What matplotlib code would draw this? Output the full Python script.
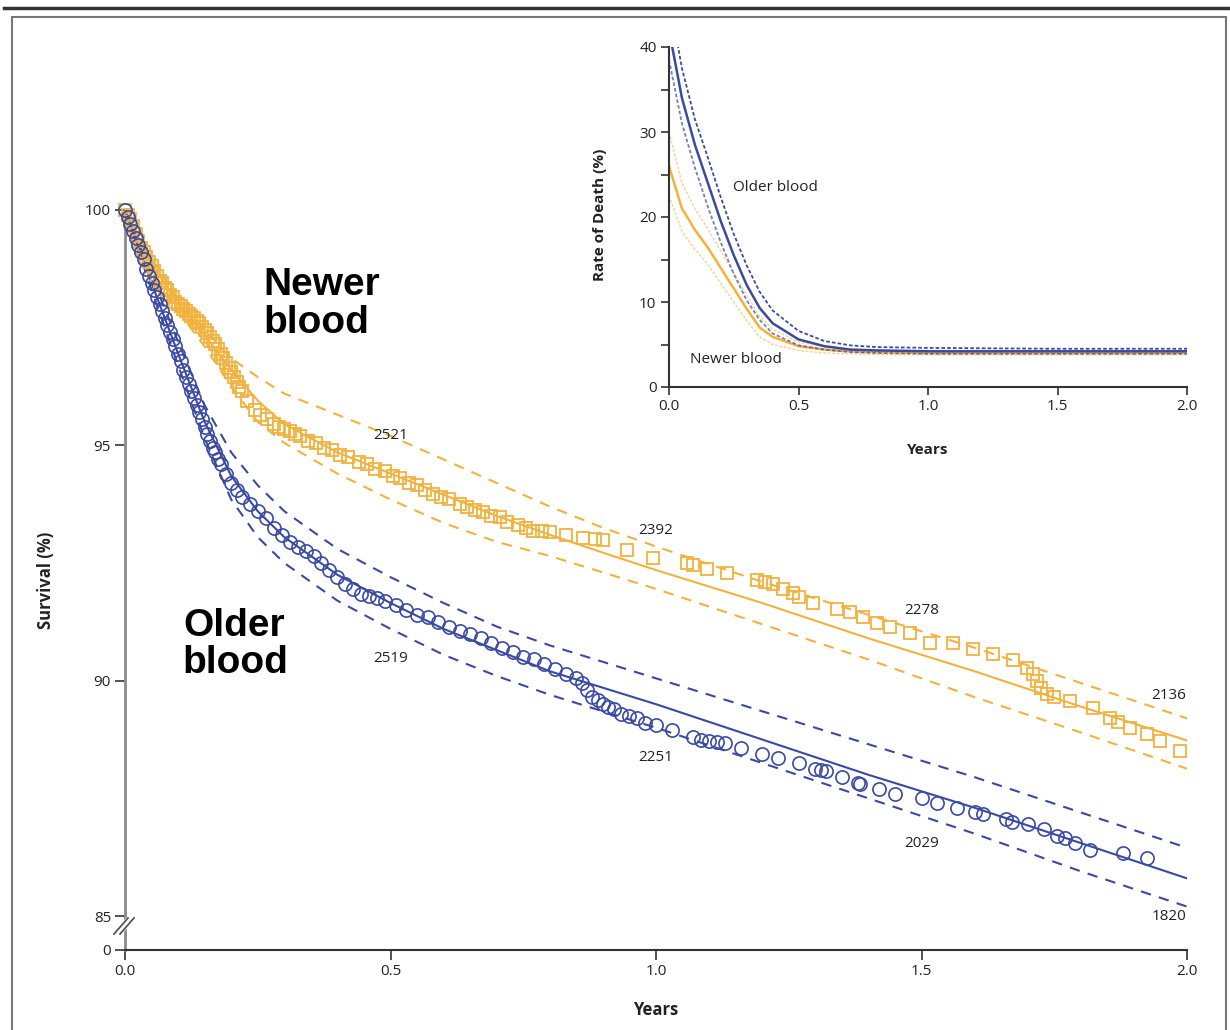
import matplotlib
matplotlib.use("Agg")
import matplotlib.pyplot as plt
from matplotlib.lines import Line2D
from matplotlib.patches import Rectangle, Polygon

BLUE = "#3a4aa3"
ORANGE = "#f2b23e"
TXT = "#222222"
plt.rcParams['font.family'] = ['Open Sans', 'DejaVu Sans']

# ---- main panel: Kaplan-Meier style survival (%)
older_x = [0.000, 0.005, 0.010, 0.015, 0.020, 0.025, 0.030, 0.035, 0.040, 0.045,
           0.050, 0.055, 0.060, 0.065, 0.070, 0.075, 0.080, 0.085, 0.090, 0.095,
           0.100, 0.105, 0.110, 0.115, 0.120, 0.125, 0.130, 0.135, 0.140, 0.145,
           0.150, 0.155, 0.160, 0.165, 0.170, 0.175, 0.180, 0.190, 0.200, 0.210,
           0.220, 0.235, 0.250, 0.265, 0.280, 0.295, 0.310, 0.325, 0.340, 0.355,
           0.370, 0.385, 0.400, 0.415, 0.430, 0.445, 0.460, 0.475, 0.490, 0.510,
           0.530, 0.550, 0.570, 0.590, 0.610, 0.630, 0.650, 0.670, 0.690, 0.710,
           0.730, 0.750, 0.770, 0.790, 0.810, 0.830, 0.850, 0.860, 0.870, 0.880,
           0.890, 0.900, 0.910, 0.920, 0.935, 0.950, 0.965, 0.980, 1.000, 1.030,
           1.070, 1.085, 1.100, 1.115, 1.130, 1.160, 1.200, 1.230, 1.270, 1.300,
           1.310, 1.320, 1.350, 1.380, 1.385, 1.420, 1.450, 1.500, 1.530, 1.567,
           1.600, 1.616, 1.660, 1.670, 1.700, 1.730, 1.755, 1.770, 1.790, 1.817,
           1.880, 1.925]
older_y = [100.0, 99.85, 99.7, 99.55, 99.4, 99.25, 99.1, 98.95, 98.75, 98.6,
           98.45, 98.3, 98.15, 98.0, 97.85, 97.7, 97.55, 97.4, 97.25, 97.1,
           96.95, 96.8, 96.6, 96.45, 96.3, 96.15, 96.0, 95.85, 95.7, 95.55,
           95.4, 95.25, 95.1, 94.95, 94.85, 94.7, 94.6, 94.4, 94.2, 94.05,
           93.9, 93.75, 93.6, 93.45, 93.25, 93.1, 92.95, 92.85, 92.75, 92.65,
           92.5, 92.35, 92.2, 92.05, 91.95, 91.85, 91.8, 91.75, 91.7, 91.6,
           91.5, 91.4, 91.35, 91.25, 91.15, 91.05, 91.0, 90.9, 90.8, 90.7,
           90.6, 90.5, 90.45, 90.35, 90.25, 90.15, 90.05, 89.95, 89.8, 89.65,
           89.6, 89.5, 89.45, 89.4, 89.3, 89.25, 89.2, 89.1, 89.05, 88.95,
           88.8, 88.75, 88.72, 88.7, 88.68, 88.57, 88.45, 88.36, 88.25, 88.12,
           88.1, 88.08, 87.95, 87.82, 87.8, 87.7, 87.6, 87.5, 87.4, 87.3,
           87.2, 87.17, 87.06, 87.0, 86.95, 86.85, 86.7, 86.65, 86.55, 86.4,
           86.34, 86.23]

newer_x = [0.000, 0.005, 0.010, 0.015, 0.020, 0.025, 0.030, 0.035, 0.040, 0.045,
           0.050, 0.055, 0.060, 0.065, 0.070, 0.075, 0.080, 0.085, 0.090, 0.095,
           0.100, 0.105, 0.110, 0.115, 0.120, 0.125, 0.130, 0.135, 0.140, 0.145,
           0.150, 0.155, 0.160, 0.165, 0.170, 0.175, 0.180, 0.185, 0.190, 0.195,
           0.200, 0.205, 0.210, 0.215, 0.220, 0.230, 0.245, 0.255, 0.267, 0.280,
           0.290, 0.300, 0.310, 0.320, 0.330, 0.345, 0.360, 0.375, 0.390, 0.405,
           0.420, 0.440, 0.456, 0.470, 0.490, 0.505, 0.518, 0.535, 0.550, 0.565,
           0.580, 0.595, 0.610, 0.630, 0.644, 0.660, 0.675, 0.690, 0.706, 0.720,
           0.740, 0.755, 0.768, 0.785, 0.800, 0.830, 0.862, 0.885, 0.900, 0.945,
           0.994, 1.058, 1.070, 1.096, 1.133, 1.190, 1.205, 1.220, 1.240, 1.258,
           1.270, 1.296, 1.340, 1.365, 1.390, 1.416, 1.440, 1.478, 1.516, 1.560,
           1.597, 1.635, 1.672, 1.699, 1.710, 1.717, 1.725, 1.736, 1.750, 1.780,
           1.823, 1.855, 1.870, 1.893, 1.925, 1.949, 1.987]
newer_y = [100.0, 99.9, 99.8, 99.65, 99.5, 99.35, 99.2, 99.1, 99.0, 98.9,
           98.8, 98.7, 98.6, 98.5, 98.45, 98.35, 98.3, 98.2, 98.15, 98.05,
           98.0, 97.95, 97.9, 97.85, 97.8, 97.75, 97.7, 97.65, 97.6, 97.52,
           97.45, 97.38, 97.3, 97.22, 97.15, 97.05, 96.95, 96.85, 96.75, 96.65,
           96.55, 96.45, 96.35, 96.25, 96.15, 95.95, 95.75, 95.65, 95.55, 95.45,
           95.4, 95.35, 95.3, 95.25, 95.2, 95.1, 95.05, 94.95, 94.9, 94.8,
           94.75, 94.65, 94.6, 94.5, 94.45, 94.35, 94.3, 94.2, 94.15, 94.05,
           93.97, 93.9, 93.85, 93.75, 93.68, 93.62, 93.58, 93.5, 93.47, 93.38,
           93.3, 93.25, 93.19, 93.17, 93.15, 93.1, 93.04, 93.0, 92.98, 92.77,
           92.6, 92.51, 92.45, 92.38, 92.28, 92.13, 92.1, 92.06, 91.95, 91.87,
           91.78, 91.64, 91.53, 91.45, 91.35, 91.23, 91.13, 91.02, 90.8, 90.79,
           90.68, 90.57, 90.43, 90.26, 90.15, 90.0, 89.85, 89.72, 89.65, 89.57,
           89.43, 89.21, 89.12, 89.0, 88.87, 88.72, 88.51]

# fitted model curves with confidence bands
fit_x = [0, 0.05, 0.1, 0.15, 0.2, 0.25, 0.3, 0.4, 0.5, 0.6, 0.7, 0.8, 0.9,
         1.0, 1.2, 1.4, 1.6, 1.8, 2.0]
older_fit = [100, 98.45, 96.95, 95.5, 94.35, 93.6, 93.05, 92.25, 91.65, 91.1,
             90.65, 90.2, 89.85, 89.5, 88.75, 88.0, 87.3, 86.55, 85.8]
older_hi = [100, 98.6, 97.2, 95.85, 94.85, 94.15, 93.6, 92.8, 92.2, 91.65,
            91.15, 90.75, 90.4, 90.05, 89.35, 88.65, 87.95, 87.2, 86.45]
older_lo = [100, 98.3, 96.7, 95.15, 93.85, 93.05, 92.5, 91.7, 91.1, 90.55,
            90.1, 89.7, 89.35, 89.0, 88.25, 87.5, 86.75, 85.95, 85.2]
newer_fit = [100, 98.85, 98.0, 97.35, 96.6, 95.95, 95.45, 94.85, 94.4, 93.95,
             93.5, 93.1, 92.72, 92.35, 91.65, 90.9, 90.2, 89.45, 88.73]
newer_hi = [100, 98.95, 98.1, 97.45, 96.85, 96.45, 96.1, 95.65, 95.2, 94.7,
            94.2, 93.7, 93.25, 92.85, 92.1, 91.4, 90.7, 89.95, 89.2]
newer_lo = [100, 98.75, 97.85, 97.1, 96.25, 95.5, 95.05, 94.4, 93.85, 93.35,
            92.95, 92.65, 92.3, 91.95, 91.2, 90.45, 89.65, 88.9, 88.13]

# numbers at risk
risk_x = [0.5, 1.0, 1.5, 1.966]
risk_newer = ["2521", "2392", "2278", "2136"]
risk_newer_y = [95.2, 93.2, 91.5, 89.68]
risk_older = ["2519", "2251", "2029", "1820"]
risk_older_y = [90.47, 88.36, 86.55, 85.0]

# ---- inset: rate of death (%)
rate_x = [0.0, 0.05, 0.1, 0.15, 0.2, 0.25, 0.3, 0.35, 0.4, 0.5, 0.6, 0.7,
          0.8, 1.0, 1.5, 2.0]
older_rate = [42, 34.0, 28.5, 24.0, 19.5, 15.5, 12.0, 9.3, 7.5, 5.6, 4.8, 4.4,
              4.3, 4.2, 4.2, 4.2]
older_rate_hi = [46, 37.5, 31.5, 27.0, 22.3, 18.0, 14.3, 11.2, 9.0, 6.6, 5.4,
                 4.9, 4.7, 4.6, 4.5, 4.5]
older_rate_lo = [38.5, 31.0, 25.8, 21.2, 17.0, 13.3, 10.2, 7.9, 6.3, 4.9, 4.4,
                 4.1, 4.0, 3.9, 3.9, 3.9]
newer_rate = [26.0, 21.0, 18.5, 16.4, 14.0, 11.6, 9.2, 7.0, 5.9, 4.8, 4.4,
              4.2, 4.1, 4.0, 4.0, 4.0]
newer_rate_hi = [30.0, 24.0, 21.0, 18.6, 16.0, 13.4, 10.8, 8.3, 6.8, 5.3, 4.7,
                 4.5, 4.4, 4.3, 4.3, 4.3]
newer_rate_lo = [22.5, 18.3, 16.2, 14.4, 12.2, 10.0, 7.8, 5.9, 5.0, 4.3, 4.0,
                 3.9, 3.8, 3.8, 3.8, 3.8]

W, H = 1230, 1030
fig = plt.figure(figsize=(W / 100, H / 100), dpi=100)

# page frame
fig.add_artist(Line2D([4 / W, 1], [1 - 8 / H] * 2, lw=2.5, color="#333333"))
fig.add_artist(Rectangle((12 / W, -0.02), (1226 - 12) / W, 1 - 17 / H + 0.02,
                         fill=False, ec="#777777", lw=1.5))

y0 = 84.278  # position of the "0" tick below the axis break
ax = fig.add_axes([125 / W, (H - 950) / H, (1187 - 125) / W, (950 - 210) / H])
ax.set_xlim(0, 2.0)
ax.set_ylim(y0, 100)

dash = (0, (5, 4))
for ys, st in [(newer_hi, dash), (newer_lo, dash), (newer_fit, "-")]:
    ax.plot(fit_x, ys, color=ORANGE, lw=1.5, linestyle=st, zorder=2)
for ys, st in [(older_hi, dash), (older_lo, dash), (older_fit, "-")]:
    ax.plot(fit_x, ys, color=BLUE, lw=1.5, linestyle=st, zorder=2)

ax.plot(newer_x, newer_y, linestyle="none", marker="s", ms=9, mfc="none",
        mec=ORANGE, mew=1.3, clip_on=False, zorder=3)
ax.plot(older_x, older_y, linestyle="none", marker="o", ms=9.5, mfc="none",
        mec=BLUE, mew=1.2, clip_on=False, zorder=3)

for x, s, y in zip(risk_x, risk_newer, risk_newer_y):
    ax.text(x, y, s, ha="center", va="center", fontsize=11, color=TXT)
for x, s, y in zip(risk_x, risk_older, risk_older_y):
    ax.text(x, y, s, ha="center", va="center", fontsize=11, color=TXT)

ax.text(0.26, 98.0, "Newer\nblood", ha="left", va="center", fontsize=28,
        fontweight="bold", family="Liberation Sans", linespacing=1.05, color="black")
ax.text(0.109, 90.77, "Older\nblood", ha="left", va="center", fontsize=28,
        fontweight="bold", family="Liberation Sans", linespacing=1.05, color="black")

ax.set_xticks([0, 0.5, 1.0, 1.5, 2.0])
ax.set_xticklabels(["0.0", "0.5", "1.0", "1.5", "2.0"])
ax.set_yticks([y0, 85, 90, 95, 100])
ax.set_yticklabels(["0", "85", "90", "95", "100"])
ax.tick_params(axis="both", direction="out", length=7, width=1.2,
               labelsize=11, colors="#333333", labelcolor=TXT, pad=3)
for s in ["top", "right"]:
    ax.spines[s].set_visible(False)
ax.spines["left"].set_color("#8a8a8a")
ax.spines["left"].set_linewidth(2)
ax.spines["left"].set_bounds(y0, 100)
ax.spines["bottom"].set_color("#333333")
ax.spines["bottom"].set_linewidth(1.5)
ax.set_xlabel("Years", fontsize=12, fontweight="bold", color=TXT, labelpad=16)
ax.set_ylabel("Survival (%)", fontsize=12, fontweight="bold", color=TXT)
ax.yaxis.set_label_coords(-0.066, 0.5)

# axis break marks
def px(x, y):
    return (x / W, 1 - y / H)
gap = Polygon([px(113, 932), px(127, 917), px(134, 921), px(120, 936)],
              closed=True, fc="white", ec="none", transform=fig.transFigure, zorder=5)
fig.add_artist(gap)
for dx in (0, 6):
    (x1, y1), (x2, y2) = px(114 + dx, 934), px(128 + dx, 918)
    fig.add_artist(Line2D([x1, x2], [y1, y2], color="#555555", lw=1.3, zorder=6))

# inset
ins = fig.add_axes([669 / W, (H - 387) / H, (1187 - 669) / W, (387 - 47) / H])
ins.set_xlim(0, 2.0)
ins.set_ylim(0, 40)
ins.plot(rate_x, newer_rate_hi, color=ORANGE, lw=1.0, ls=(0, (2, 1.2)), alpha=0.6)
ins.plot(rate_x, newer_rate_lo, color=ORANGE, lw=1.0, ls=(0, (2, 1.2)), alpha=0.6)
ins.plot(rate_x, newer_rate, color=ORANGE, lw=1.8)
ins.plot(rate_x, older_rate_hi, color=BLUE, lw=1.3, ls=(0, (2, 1.2)))
ins.plot(rate_x, older_rate_lo, color=BLUE, lw=1.3, ls=(0, (2, 1.2)), alpha=0.7)
ins.plot(rate_x, older_rate, color=BLUE, lw=1.8)
ins.text(0.247, 23.5, "Older blood", fontsize=11, color=TXT, va="center", ha="left")
ins.text(0.08, 3.2, "Newer blood", fontsize=11, color=TXT, va="center", ha="left")
ins.set_xticks([0, 0.5, 1.0, 1.5, 2.0])
ins.set_xticklabels(["0.0", "0.5", "1.0", "1.5", "2.0"])
ins.set_yticks([0, 10, 20, 30, 40])
ins.set_yticks([5, 15, 25, 35], minor=True)
ins.tick_params(axis="both", which="both", direction="out", length=6, width=1.2,
                labelsize=11, colors="#333333", labelcolor=TXT, pad=3)
for s in ["top", "right"]:
    ins.spines[s].set_visible(False)
for s in ["left", "bottom"]:
    ins.spines[s].set_color("#333333")
    ins.spines[s].set_linewidth(1.5)
ins.set_xlabel("Years", fontsize=11, fontweight="bold", color=TXT)
ins.xaxis.set_label_coords(0.5, -0.165)
ins.set_ylabel("Rate of Death (%)", fontsize=11, fontweight="bold", color=TXT)
ins.yaxis.set_label_coords(-0.12, 0.506)

fig.savefig("out.png", dpi=100)
